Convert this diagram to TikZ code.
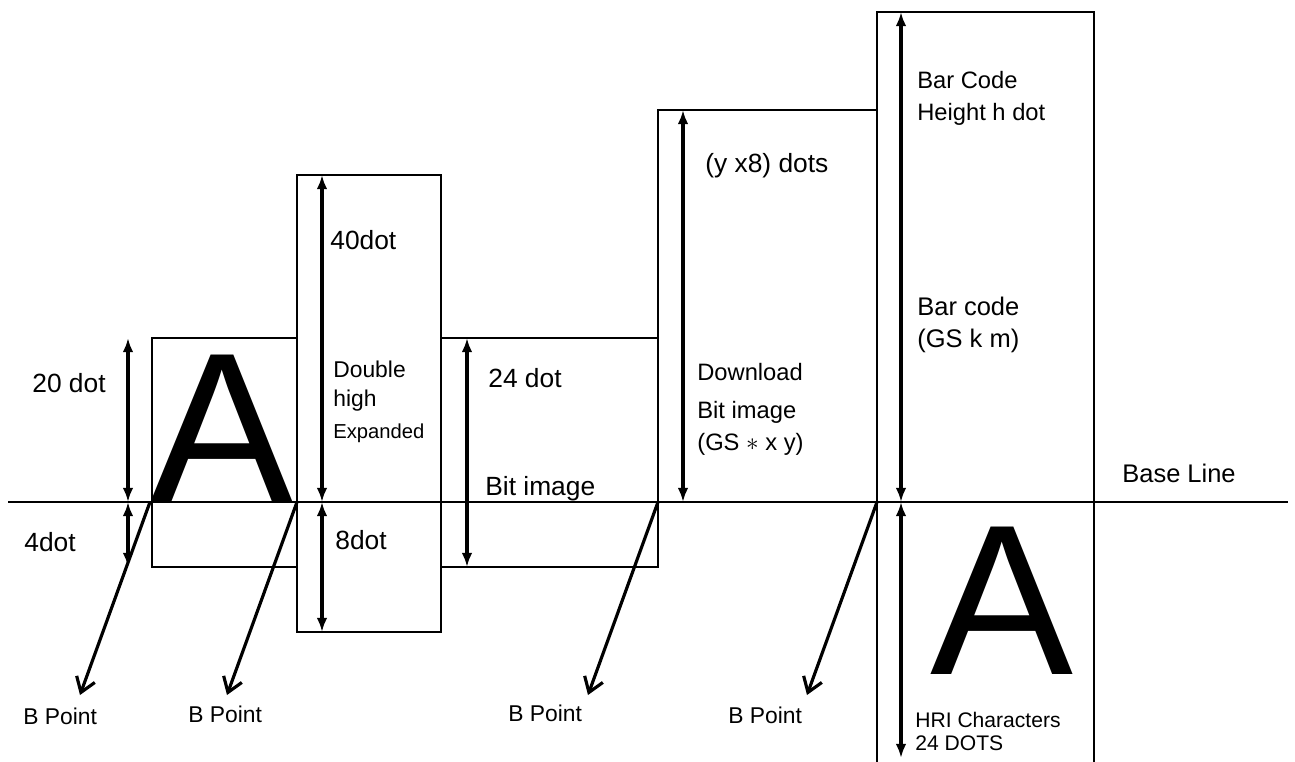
\documentclass[tikz,border=0pt]{standalone}
\usepackage{fontspec}
\setmainfont{Liberation Sans}
\usetikzlibrary{arrows.meta}

\begin{document}
\begin{tikzpicture}[x=0.02cm,y=-0.02cm,
    frame/.style={draw,line width=1pt},
    dimarrow/.style={line width=2pt,{Latex[length=8pt,width=6pt]}-{Latex[length=8pt,width=6pt]}},
    bpoint/.style={line width=1.8pt,-{Straight Barb[length=8pt,width=11pt,line width=1.8pt]}},
    lbl/.style={anchor=base west,inner sep=0pt},
    big/.style={anchor=base west,inner sep=0pt,text depth=0pt,font=\fontsize{122}{122}\selectfont}]
  \useasboundingbox (0,0) rectangle (1295,761);
  % boxes and base line
  \draw[frame] (152,338) rectangle (297,567);
  \draw[frame] (297,175) rectangle (441,632);
  \draw[frame] (441,338) rectangle (658,567);
  \draw[frame] (658,110) rectangle (877,502);
  \draw[frame] (877,770) -- (877,12) -- (1094,12) -- (1094,770);
  \coordinate (baseL) at (8,502);
  \coordinate (baseR) at (1288,502);
  \draw[line width=1.1pt] (baseL) -- (baseR);
  % dimension arrows
  \coordinate (c20t) at (128,338);
  \coordinate (c20b) at (128,502);
  \coordinate (c4b)  at (128,567);
  \coordinate (c40t) at (322,175);
  \coordinate (c40b) at (322,502);
  \coordinate (c8b)  at (322,632);
  \coordinate (c24t) at (467,338);
  \coordinate (c24b) at (467,567);
  \coordinate (cyt)  at (683,110);
  \coordinate (cyb)  at (683,502);
  \coordinate (cht)  at (901,12);
  \coordinate (chb)  at (901,502);
  \coordinate (chri) at (901,758);
  \draw[dimarrow] (c20t) -- (c20b);
  \draw[dimarrow] (c20b) -- (c4b);
  \draw[dimarrow] (c40t) -- (c40b);
  \draw[dimarrow] (c40b) -- (c8b);
  \draw[dimarrow] (c24t) -- (c24b);
  \draw[dimarrow] (cyt) -- (cyb);
  \draw[dimarrow] (cht) -- (chb);
  \draw[dimarrow] (chb) -- (chri);
  % big characters
  \node[big] (charA) at (150,502) {A};
  \node[big] (hriA) at (930,674) {A};
  % labels
  \node[lbl,font=\fontsize{15}{16}\selectfont] (lab20) at (32,392) {20 dot};
  \node[lbl,font=\fontsize{15}{16}\selectfont] (lab4) at (24,551) {4dot};
  \node[lbl,font=\fontsize{15}{16}\selectfont] (lab40) at (330,249) {40dot};
  \node[lbl,font=\fontsize{13}{14}\selectfont] (labDouble) at (333,377) {Double};
  \node[lbl,font=\fontsize{13}{14}\selectfont] (labHigh) at (333,406) {high};
  \node[lbl,font=\fontsize{11.5}{12}\selectfont] (labExp) at (333,438) {Expanded};
  \node[lbl,font=\fontsize{15}{16}\selectfont] (lab8) at (335,549) {8dot};
  \node[lbl,font=\fontsize{15}{16}\selectfont] (lab24) at (488,387) {24 dot};
  \node[lbl,font=\fontsize{15}{16}\selectfont] (labBit) at (485,495) {Bit image};
  \node[lbl,font=\fontsize{15}{16}\selectfont] (labY) at (705,172) {(y x8) dots};
  \node[lbl,font=\fontsize{13.5}{14}\selectfont] (labDown) at (697,380) {Download};
  \node[lbl,font=\fontsize{13.5}{14}\selectfont] (labDBit) at (697,418) {Bit image};
  \node[lbl,font=\fontsize{13.5}{14}\selectfont] (labGS) at (697,450) {(GS $\ast$ x y)};
  \node[lbl,font=\fontsize{13.5}{14}\selectfont] (labBar) at (917,88) {Bar Code};
  \node[lbl,font=\fontsize{13.5}{14}\selectfont] (labHeight) at (917,120) {Height h dot};
  \node[lbl,font=\fontsize{14.5}{15}\selectfont] (labCode) at (917,315) {Bar code};
  \node[lbl,font=\fontsize{14.5}{15}\selectfont] (labGSk) at (917,347) {(GS k m)};
  \node[lbl,font=\fontsize{14.5}{15}\selectfont] (labBase) at (1122,482) {Base Line};
  \node[lbl,font=\fontsize{12}{13}\selectfont] (labHRI) at (915,727) {HRI Characters};
  \node[lbl,font=\fontsize{12}{13}\selectfont] (labDots) at (915,750) {24 DOTS};
  % B points
  \coordinate (bp1) at (150,502);
  \coordinate (bp2) at (297,502);
  \coordinate (bp3) at (658,502);
  \coordinate (bp4) at (877,502);
  \coordinate (tip1) at (80,695);
  \coordinate (tip2) at (227,695);
  \coordinate (tip3) at (588,695);
  \coordinate (tip4) at (807,695);
  \draw[bpoint] (bp1) -- (tip1);
  \draw[bpoint] (bp2) -- (tip2);
  \draw[bpoint] (bp3) -- (tip3);
  \draw[bpoint] (bp4) -- (tip4);
  \node[lbl,font=\fontsize{13}{14}\selectfont] (pt1) at (23,724) {B Point};
  \node[lbl,font=\fontsize{13}{14}\selectfont] (pt2) at (188,722) {B Point};
  \node[lbl,font=\fontsize{13}{14}\selectfont] (pt3) at (508,721) {B Point};
  \node[lbl,font=\fontsize{13}{14}\selectfont] (pt4) at (728,723) {B Point};
\end{tikzpicture}
\end{document}
